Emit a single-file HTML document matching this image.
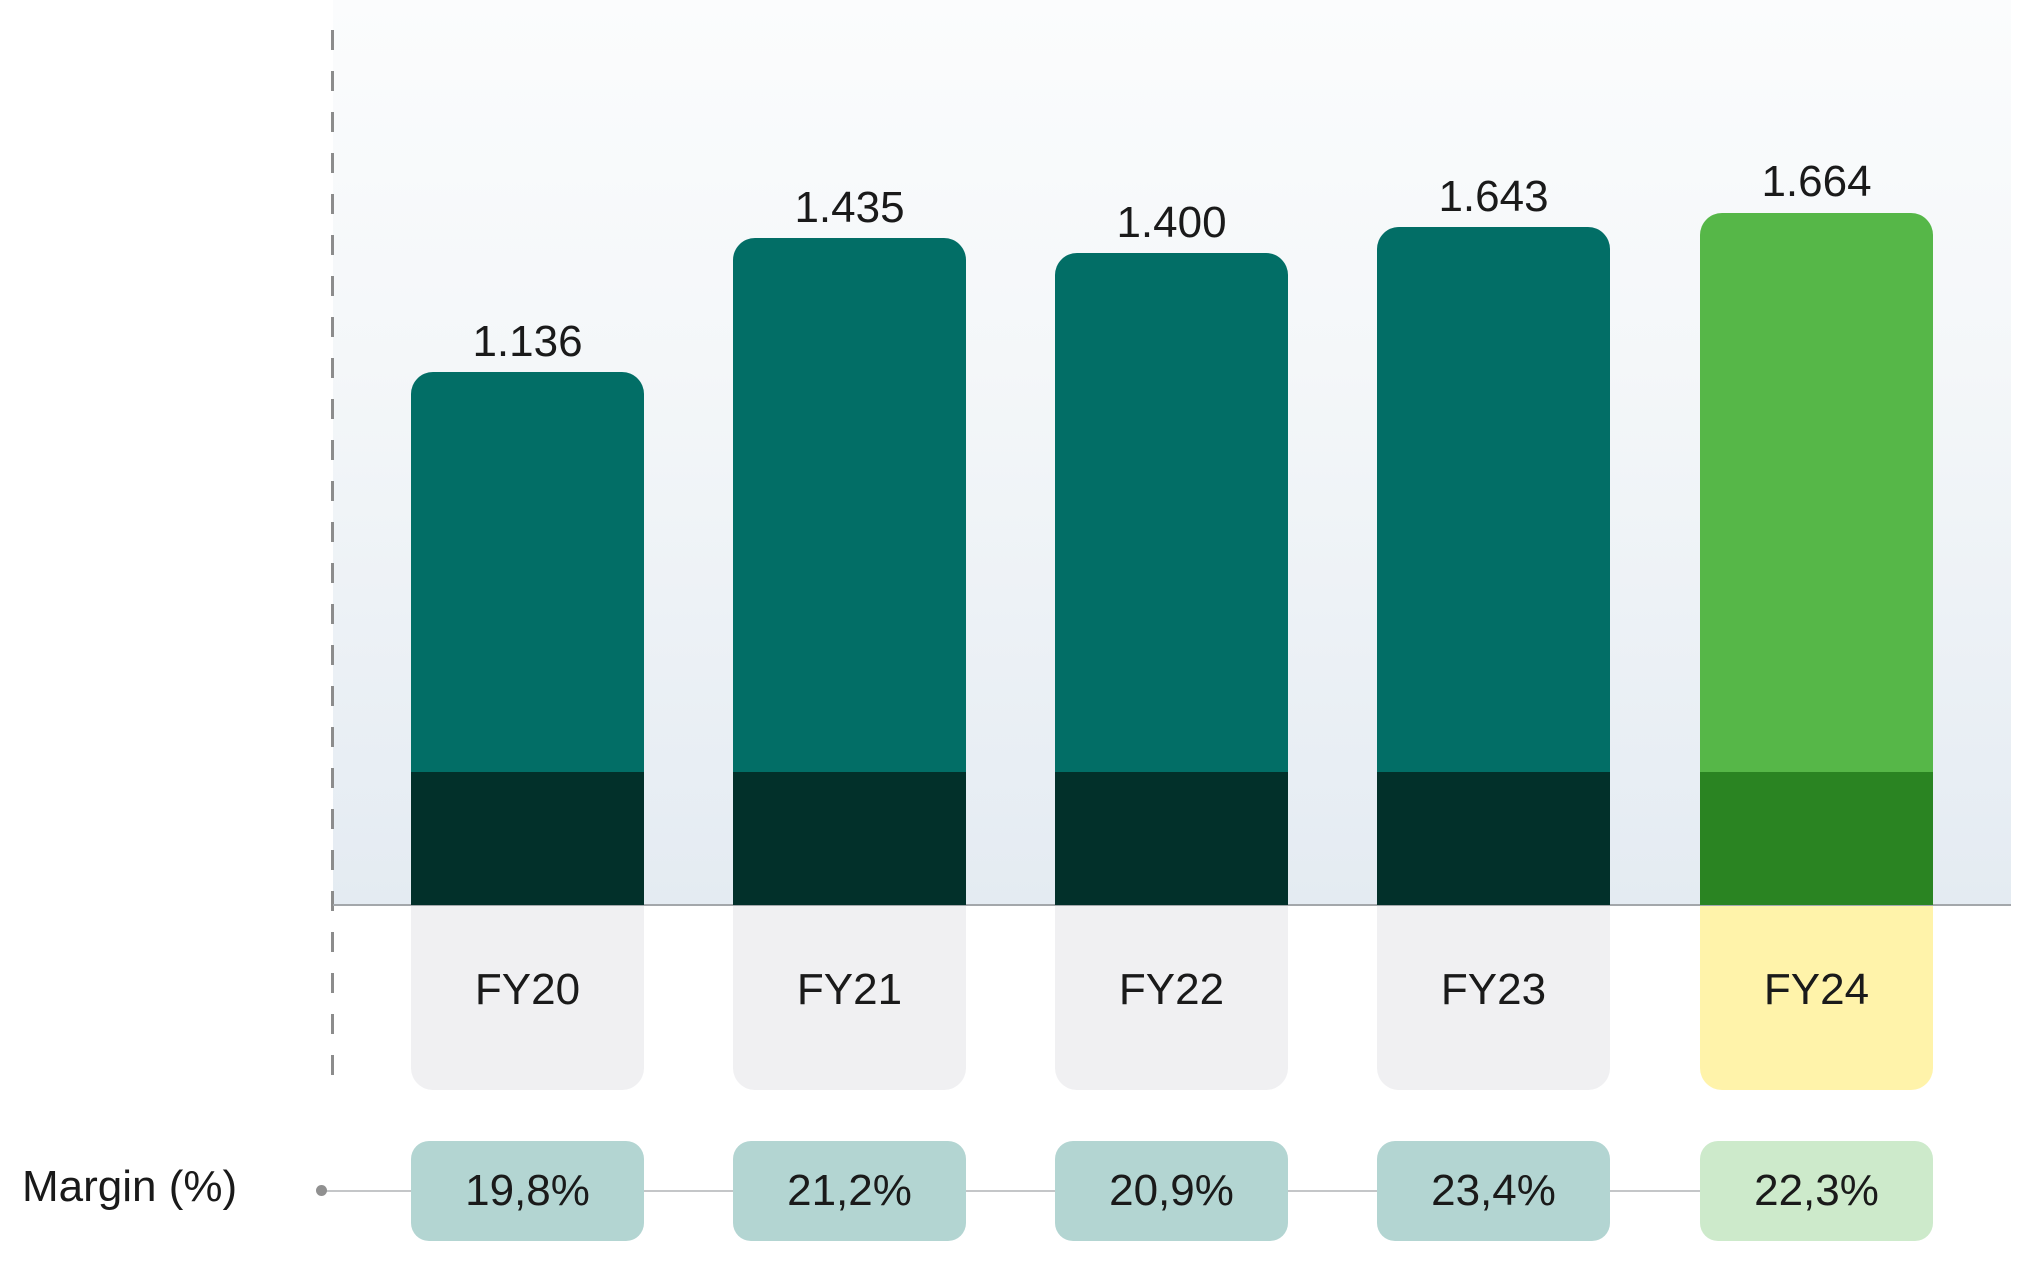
<!DOCTYPE html>
<html><head><meta charset="utf-8"><style>
html,body{margin:0;padding:0;background:#fff;}
body{width:2040px;height:1268px;position:relative;overflow:hidden;font-family:"Liberation Sans",sans-serif;color:#1a1a1a;}
.bg{position:absolute;left:333px;top:0;width:1678px;height:905px;background:linear-gradient(#fbfcfd 0%,#f4f7f9 40%,#e4ebf2 100%);}
.axis{position:absolute;left:333px;top:904px;width:1678px;height:2px;background:#a3a7ab;}
.dash{position:absolute;left:331px;top:30px;width:3px;height:1045px;background:repeating-linear-gradient(#8c8c8c 0 20px,transparent 20px 41px);}
.bar{position:absolute;width:233px;border-radius:22px 22px 0 0;overflow:hidden;background:#026e66;}
.bar .d{position:absolute;left:0;right:0;bottom:0;height:133px;background:#02302a;}
.bar.g{background:#56b748;}.bar.g .d{background:#2a8422;}
.val{position:absolute;width:233px;text-align:center;font-size:44px;line-height:1;}
.cat{position:absolute;top:906px;width:233px;height:184px;background:#f0f0f2;border-radius:0 0 22px 22px;text-align:center;font-size:44px;line-height:168px;}
.cat.y{background:#fff3aa;}
.line{position:absolute;left:322px;top:1190px;width:1610px;height:2px;background:#c4c6c8;}
.dot{position:absolute;left:316px;top:1185px;width:11px;height:11px;border-radius:50%;background:#909090;}
.m{position:absolute;top:1141px;width:233px;height:100px;background:#b3d5d2;border-radius:18px;text-align:center;font-size:44px;line-height:100px;}
.m.g{background:#cdeacb;}
.lab{position:absolute;left:22px;top:1165px;font-size:44px;line-height:1;}
</style></head><body>
<div class="bg"></div>
<div class="dash"></div>
<div class="axis"></div>

<div class="bar" style="left:411px;top:372px;height:533px"><div class="d"></div></div>
<div class="bar" style="left:733px;top:238px;height:667px"><div class="d"></div></div>
<div class="bar" style="left:1055px;top:253px;height:652px"><div class="d"></div></div>
<div class="bar" style="left:1377px;top:227px;height:678px"><div class="d"></div></div>
<div class="bar g" style="left:1700px;top:213px;height:692px"><div class="d"></div></div>

<div class="val" style="left:411px;top:320px">1.136</div>
<div class="val" style="left:733px;top:186px">1.435</div>
<div class="val" style="left:1055px;top:201px">1.400</div>
<div class="val" style="left:1377px;top:175px">1.643</div>
<div class="val" style="left:1700px;top:160px">1.664</div>

<div class="cat" style="left:411px">FY20</div>
<div class="cat" style="left:733px">FY21</div>
<div class="cat" style="left:1055px">FY22</div>
<div class="cat" style="left:1377px">FY23</div>
<div class="cat y" style="left:1700px">FY24</div>

<div class="line"></div><div class="dot"></div>
<div class="lab">Margin (%)</div>
<div class="m" style="left:411px">19,8%</div>
<div class="m" style="left:733px">21,2%</div>
<div class="m" style="left:1055px">20,9%</div>
<div class="m" style="left:1377px">23,4%</div>
<div class="m g" style="left:1700px">22,3%</div>
</body></html>
